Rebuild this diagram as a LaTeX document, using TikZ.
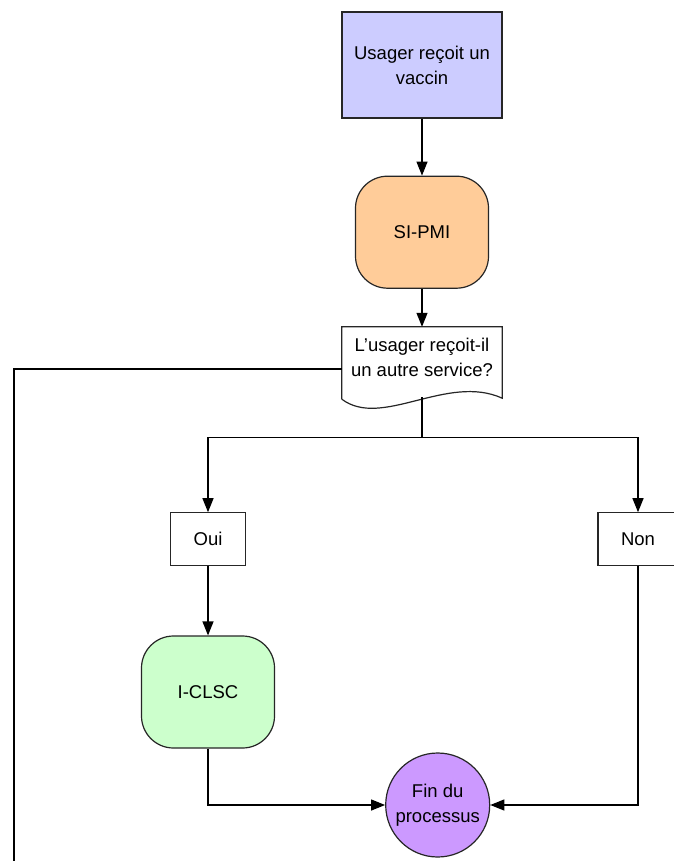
\documentclass[tikz,border=0pt]{standalone}
\usepackage{fontspec}
\setmainfont{Liberation Sans}
\usetikzlibrary{arrows.meta, positioning}
\definecolor{vaccinblue}{HTML}{CCCCFF}
\definecolor{pmiorange}{HTML}{FFCC99}
\definecolor{clscgreen}{HTML}{CCFFCC}
\definecolor{finpurple}{HTML}{CC99FF}

\begin{document}
\begin{tikzpicture}[
    font=\fontsize{18.5}{25}\selectfont,
    box/.style={rectangle, draw=black!85, line width=1.2pt, align=center, inner sep=2pt},
    roundbox/.style={box, rounded corners=32pt, minimum width=133pt, minimum height=112pt},
    answer/.style={box, minimum width=75pt, minimum height=53pt},
    arr/.style={-{Triangle[length=14pt,width=11pt]}, line width=1.2pt},
    line/.style={line width=1.2pt}
]
\useasboundingbox (0pt,0pt) rectangle (673pt,-861pt);

% Steps
\node[box, fill=vaccinblue, minimum width=160pt, minimum height=106pt] (usager) at (422pt,-65pt) {Usager reçoit un\\vaccin};
\node[roundbox, fill=pmiorange, below=57pt of usager] (sipmi) {SI-PMI};

% Question (document shape)
\node[rectangle, align=center, minimum width=160pt, minimum height=60pt, below=38pt of sipmi] (question) {L’usager reçoit-il\\un autre service?};
\draw[line, draw=black!85, fill=white] ([yshift=-12pt]question.south west) -- (question.north west) -- (question.north east) -- ([yshift=-11pt]question.south east)
    .. controls ([xshift=-55pt,yshift=14pt]question.south east) and ([xshift=40pt,yshift=-42pt]question.south west) .. ([yshift=-12pt]question.south west);
\node[align=center] at (question) {L’usager reçoit-il\\un autre service?};
\coordinate (qbottom) at ([yshift=-10pt]question.south);
\coordinate (qleft) at ([yshift=-12pt]question.west);
\coordinate (offpage) at (14pt,-875pt);

% Answers
\node[answer, below=125pt of question, xshift=-214pt] (oui) {Oui};
\node[answer, minimum width=80pt, below=125pt of question, xshift=216pt] (non) {Non};
\node[roundbox, fill=clscgreen, below=69pt of oui] (iclsc) {I-CLSC};
\node[circle, draw=black!85, line width=1.2pt, fill=finpurple, minimum size=104pt, inner sep=0pt, align=center,
      right=110pt of iclsc, yshift=-113pt] (fin) {Fin du\\processus};

% Arrows
\draw[arr] (usager) -- (sipmi);
\draw[arr] (sipmi) -- (question);
\draw[line] (qleft) -| (offpage);
\draw[line] (qbottom) -- ++(0,-40pt) coordinate (split);
\draw[arr] (split) -| (oui);
\draw[arr] (split) -| (non);
\draw[arr] (oui) -- (iclsc);
\draw[arr] (iclsc) |- (fin);
\draw[arr] (non) |- (fin);
\end{tikzpicture}
\end{document}
